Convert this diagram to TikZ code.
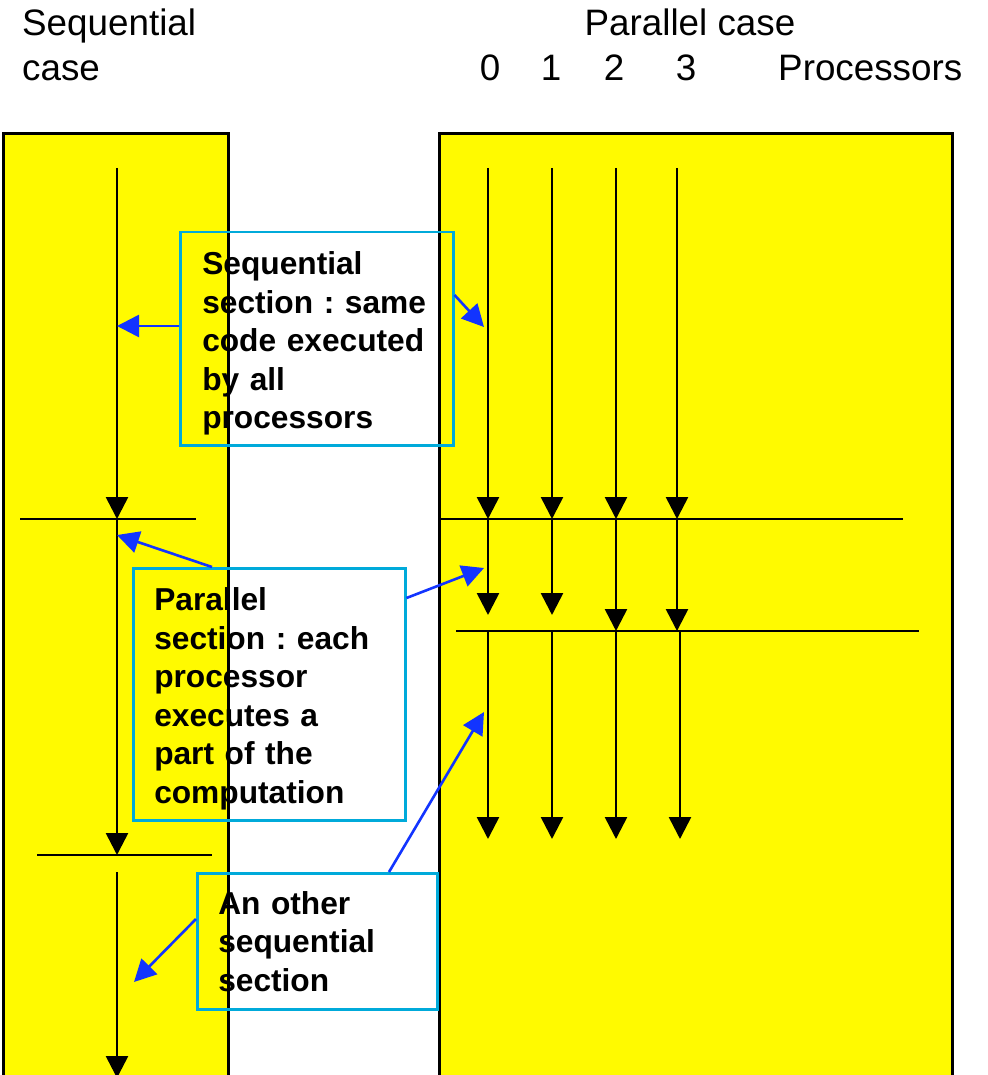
\documentclass[tikz,border=0pt]{standalone}
\usepackage{fontspec}
\setmainfont{Liberation Sans}
\usetikzlibrary{arrows.meta}
\frenchspacing
\definecolor{panelyellow}{RGB}{255,250,0}
\definecolor{boxcyan}{RGB}{0,170,218}
\definecolor{pointblue}{RGB}{18,52,255}
\tikzset{
  panel/.style={draw=black, line width=3pt, fill=panelyellow},
  flow/.style={draw=black, line width=2.6pt, -{Triangle[length=22pt,width=22pt]}},
  barrier/.style={draw=black, line width=2.6pt},
  callout/.style={draw=boxcyan, line width=2.5pt, anchor=north west, inner ysep=0pt,
    align=left, font=\fontsize{31.7}{38.5}\selectfont\bfseries\frenchspacing},
  pointer/.style={draw=pointblue, line width=2.6pt, -{Triangle[length=22pt,width=22pt]}},
  heading/.style={inner sep=0pt, font=\fontsize{36.8}{45}\selectfont}
}
\begin{document}
\begin{tikzpicture}[x=1pt,y=-1pt]
\clip (0,0) rectangle (987,1075);

% yellow panels, both running past the lower edge
\draw[panel] (3,134) rectangle (228,1100);
\draw[panel] (439,134) rectangle (952,1100);

% sequential flow
\coordinate (s0) at (117,168);
\coordinate (s1) at (117,519);
\coordinate (s2) at (117,855);
\coordinate (s3) at (117,872);
\coordinate (s4) at (117,1078);
\draw[flow] (s0) -- (s1);
\draw[flow] (s1) -- (s2);
\draw[flow] (s3) -- (s4);

% sequential barriers
\coordinate (l1w) at (20,519);  \coordinate (l1e) at (196,519);
\coordinate (l2w) at (37,855);  \coordinate (l2e) at (212,855);
\draw[barrier] (l1w) -- (l1e);
\draw[barrier] (l2w) -- (l2e);

% parallel flows, one per processor
\foreach \i/\x/\xl/\y in {0/488/488/615, 1/552/552/615, 2/616/616/631, 3/677/680/631} {
  \coordinate (p\i a) at (\x,168);
  \coordinate (p\i b) at (\x,519);
  \coordinate (p\i c) at (\x,\y);
  \coordinate (p\i d) at (\xl,631);
  \coordinate (p\i e) at (\xl,839);
  \draw[flow] (p\i a) -- (p\i b);
  \draw[flow] (p\i b) -- (p\i c);
  \draw[flow] (p\i d) -- (p\i e);
}

% parallel barriers
\coordinate (r1w) at (440,519); \coordinate (r1e) at (903,519);
\coordinate (r2w) at (456,631); \coordinate (r2e) at (919,631);
\draw[barrier] (r1w) -- (r1e);
\draw[barrier] (r2w) -- (r2e);

% callouts
\node[callout, minimum width=273pt, minimum height=213pt, text width=229pt, inner xsep=22pt]
  (seqbox) at (179,231)
  {\rule{0pt}{32.5pt}Sequential\\section : same\\code executed\\by all\\processors};
\node[callout, minimum width=272pt, minimum height=252pt, text width=230pt, inner xsep=21pt]
  (parbox) at (132,567)
  {\rule{0pt}{32.5pt}Parallel\\section : each\\processor\\executes a\\part of the\\computation};
\node[callout, minimum width=240pt, minimum height=136pt, text width=198pt, inner xsep=21pt]
  (othbox) at (196,872)
  {An other\\sequential\\section};

% pointers from the callouts
\coordinate (t1) at (117,326);
\coordinate (t2) at (484,327);
\coordinate (t3) at (117,535);
\coordinate (t4) at (484,568);
\coordinate (t5) at (484,712);
\coordinate (t6) at (134,982);
\draw[pointer] (seqbox.west |- t1) -- (t1);
\draw[pointer] ([yshift=-64pt]seqbox.north east) -- (t2);
\draw[pointer] ([xshift=80pt]parbox.north west) -- (t3);
\draw[pointer] ([yshift=-31pt]parbox.north east) -- (t4);
\draw[pointer] ([xshift=193pt]othbox.north west) -- (t5);
\draw[pointer] ([yshift=-47pt]othbox.north west) -- (t6);

% headings
\node[heading, anchor=north west, align=left] (seqhead) at (22,9) {Sequential\\case};
\node[heading, anchor=base] (parhead) at (690,36) {Parallel case};
\node[heading, anchor=base] (proc0) at (490,81) {0};
\node[heading, anchor=base] (proc1) at (551,81) {1};
\node[heading, anchor=base] (proc2) at (614,81) {2};
\node[heading, anchor=base] (proc3) at (686,81) {3};
\node[heading, anchor=base west] (prochead) at (778,81) {Processors};
\end{tikzpicture}
\end{document}
